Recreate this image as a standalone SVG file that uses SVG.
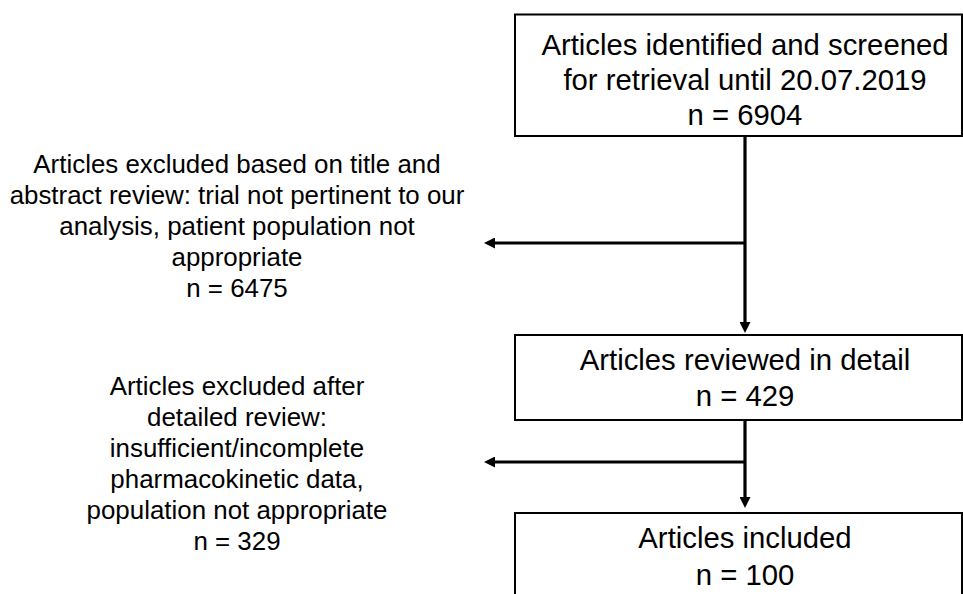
<svg xmlns="http://www.w3.org/2000/svg" width="963" height="594" viewBox="0 0 963 594">
<style>
.box{fill:#fff;stroke:#000;stroke-width:2}
.t{font-family:"Liberation Sans",Arial,sans-serif;fill:#000;text-anchor:middle}
.big{font-size:29.3px}
.small{font-size:25.9px}
.con{fill:none;stroke:#000;stroke-width:3.2}
</style>
<defs>
<marker id="ah" viewBox="0 0 11 11" refX="2" refY="5.5" markerWidth="11" markerHeight="11" markerUnits="userSpaceOnUse" orient="auto">
<path d="M0,0 L11,5.5 L0,11 z" fill="#000"/>
</marker>
</defs>
<rect width="963" height="594" fill="#fff"/>
<g id="connectors">
<path class="con" d="M745,136 V324" marker-end="url(#ah)"/>
<path class="con" d="M745,243 H493" marker-end="url(#ah)"/>
<path class="con" d="M745,420 V499" marker-end="url(#ah)"/>
<path class="con" d="M745,462 H493" marker-end="url(#ah)"/>
</g>
<g id="node-identified">
<rect class="box" x="515" y="14.5" width="447" height="121.5"/>
<text class="t big" x="745" y="55">Articles identified and screened</text>
<text class="t big" x="745" y="90">for retrieval until 20.07.2019</text>
<text class="t big" x="745" y="124.5">n = 6904</text>
</g>
<g id="node-excluded1">
<text class="t small" x="237" y="173">Articles excluded based on title and</text>
<text class="t small" x="237" y="204">abstract review: trial not pertinent to our</text>
<text class="t small" x="237" y="235">analysis, patient population not</text>
<text class="t small" x="237" y="266">appropriate</text>
<text class="t small" x="237" y="297">n = 6475</text>
</g>
<g id="node-reviewed">
<rect class="box" x="515" y="335" width="447" height="85"/>
<text class="t big" x="745" y="370">Articles reviewed in detail</text>
<text class="t big" x="745" y="406">n = 429</text>
</g>
<g id="node-excluded2">
<text class="t small" x="237" y="395">Articles excluded after</text>
<text class="t small" x="237" y="426">detailed review:</text>
<text class="t small" x="237" y="457">insufficient/incomplete</text>
<text class="t small" x="237" y="488">pharmacokinetic data,</text>
<text class="t small" x="237" y="519">population not appropriate</text>
<text class="t small" x="237" y="550">n = 329</text>
</g>
<g id="node-included">
<rect class="box" x="515" y="513" width="447" height="100"/>
<text class="t big" x="745" y="548">Articles included</text>
<text class="t big" x="745" y="585">n = 100</text>
</g>
</svg>
